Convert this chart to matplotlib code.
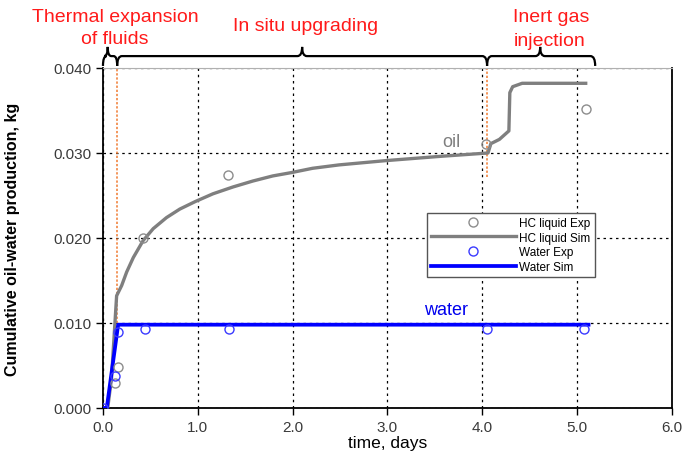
import numpy as np
import matplotlib
matplotlib.use("Agg")
import matplotlib.pyplot as plt
from matplotlib.path import Path
from matplotlib.patches import PathPatch

plt.rcParams['font.family'] = ['Liberation Sans', 'DejaVu Sans']

# simulated cumulative production (days, kg)
oil_sim_t = [0.0, 0.05, 0.09, 0.144, 0.197, 0.25, 0.32, 0.424, 0.53, 0.67, 0.81, 0.976,
             1.16, 1.37, 1.58, 1.79, 1.99, 2.21, 2.49, 2.98, 3.55, 4.06,
             4.09, 4.18, 4.28, 4.29, 4.32, 4.42, 5.09]
oil_sim_v = [0.0, 0.0, 0.0035, 0.0132, 0.0144, 0.0160, 0.0177, 0.0197, 0.0211, 0.0224, 0.0234, 0.0243,
             0.0252, 0.0260, 0.0267, 0.0273, 0.0277, 0.0282, 0.0286, 0.0291, 0.0296, 0.0300,
             0.0311, 0.0316, 0.0326, 0.0371, 0.0378, 0.0382, 0.0382]
water_sim_t = [0.0, 0.04, 0.16, 5.12]
water_sim_v = [0.0, 0.0, 0.0098, 0.0098]

# experimental points
oil_exp_t = [0.126, 0.16, 0.425, 1.32, 4.04, 5.09]
oil_exp_v = [0.0029, 0.0048, 0.0200, 0.0274, 0.0311, 0.0352]
water_exp_t = [0.0, 0.126, 0.16, 0.44, 1.33, 4.05, 5.07]
water_exp_v = [0.0, 0.0038, 0.0089, 0.0093, 0.0093, 0.0093, 0.0093]

# stage boundaries (days) and labels
stage_edges = [0.0, 0.15, 4.05, 5.19]
stage_tips = [0.05, 2.10, 4.61]

xticks = [0, 1, 2, 3, 4, 5, 6]
yticks = [0.0, 0.01, 0.02, 0.03, 0.04]

fig = plt.figure(figsize=(6.86, 4.56), dpi=100)
ax = fig.add_axes([0.1501, 0.1031, 0.8295, 0.7456])

tick_col = "#3a3a3a"
red = "#ff1a1a"
ax.grid(True, color="black", linestyle=(0, (2, 3)), linewidth=0.9)
ax.set_axisbelow(True)

# orange stage markers
ax.axvline(stage_edges[1], ymin=0.25, ymax=1.0, color="#f07a30",
           linestyle=(0, (1.5, 1.2)), linewidth=1.1, zorder=2)
ax.axvline(stage_edges[2], ymin=0.68, ymax=1.0, color="#f07a30",
           linestyle=(0, (1.5, 1.2)), linewidth=1.1, zorder=2)

ax.plot(oil_sim_t, oil_sim_v, color="#7f7f7f", linewidth=2.4, label="HC liquid Sim", zorder=3,
        solid_joinstyle="round")
ax.plot(water_sim_t, water_sim_v, color="#0000ff", linewidth=2.7, label="Water Sim", zorder=4)
ax.plot(oil_exp_t, oil_exp_v, linestyle="none", marker="o", markersize=6.5, markerfacecolor="none",
        markeredgecolor="#8c8c8c", markeredgewidth=1.0, label="HC liquid Exp", zorder=5)
ax.plot(water_exp_t, water_exp_v, linestyle="none", marker="o", markersize=6.5, markerfacecolor="none",
        markeredgecolor="#3a3aff", markeredgewidth=1.0, label="Water Exp", zorder=5)

ax.text(3.67, 0.0313, "oil", color="#7f7f7f", fontsize=13, ha="center", va="center")
ax.text(3.62, 0.0116, "water", color="#0000ee", fontsize=13, ha="center", va="center")

ax.set_xlim(0, 6)
ax.set_ylim(0, 0.04)
ax.set_xticks(xticks)
ax.set_xticklabels([f"{t:.1f}" for t in xticks])
ax.set_yticks(yticks)
ax.set_yticklabels([f"{t:.3f}" for t in yticks])
ax.tick_params(direction="out", length=5, width=1, colors="black", labelcolor=tick_col, labelsize=11)

for side in ["left", "bottom", "right"]:
    ax.spines[side].set_color("black")
    ax.spines[side].set_linewidth(1.3)
ax.spines["top"].set_color("#b0b0b0")
ax.spines["top"].set_linewidth(0.8)

ax.set_xlabel("time, days", fontsize=12.5)
ax.xaxis.set_label_coords(0.5, -0.08)
ax.set_ylabel("Cumulative oil-water production, kg", fontsize=11.5, fontweight="bold")
ax.yaxis.set_label_coords(-0.146, 0.5)

handles, labels = ax.get_legend_handles_labels()
order = [labels.index(n) for n in ["HC liquid Exp", "HC liquid Sim", "Water Exp", "Water Sim"]]
leg = ax.legend([handles[i] for i in order], [labels[i] for i in order], loc="upper left",
                bbox_to_anchor=(0.569, 0.574), fontsize=8.5, handlelength=7.2, labelspacing=0.22,
                handletextpad=0.3, borderpad=0.35, fancybox=False, framealpha=1,
                edgecolor="#555555", borderaxespad=0)
leg.get_frame().set_linewidth(1.0)

# curly stage brackets above the plot
trans = ax.get_xaxis_transform()
yb, yh, yt = 1.006, 1.035, 1.062
for x0, x1, tip in zip(stage_edges[:-1], stage_edges[1:], stage_tips):
    r = min(0.05, (x1 - x0) / 4)
    verts = [(x0, yb), (x0, yh), (x0 + r, yh),
             (tip - r, yh), (tip, yh), (tip, yt),
             (tip, yh), (tip + r, yh),
             (x1 - r, yh), (x1, yh), (x1, yb)]
    codes = [Path.MOVETO, Path.CURVE3, Path.CURVE3,
             Path.LINETO, Path.CURVE3, Path.CURVE3,
             Path.CURVE3, Path.CURVE3,
             Path.LINETO, Path.CURVE3, Path.CURVE3]
    ax.add_patch(PathPatch(Path(verts, codes), facecolor="none", edgecolor="black",
                           linewidth=1.6, transform=trans, clip_on=False))

txt = dict(color=red, fontsize=14, ha="center", va="center", transform=trans, clip_on=False)
ax.text(0.126, 1.15, "Thermal expansion", **txt)
ax.text(0.126, 1.088, "of fluids", **txt)
ax.text(2.14, 1.124, "In situ upgrading", **txt)
ax.text(4.73, 1.15, "Inert gas", **txt)
ax.text(4.71, 1.082, "injection", **txt)

fig.savefig("out.png", dpi=100)
